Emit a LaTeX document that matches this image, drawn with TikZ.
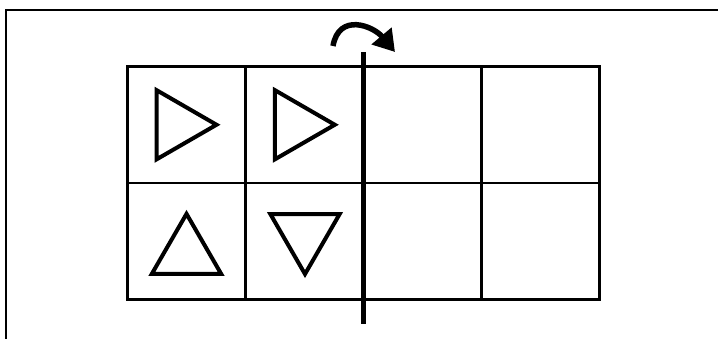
\documentclass[tikz,border=0pt]{standalone}
\usepackage{tikz}
\usetikzlibrary{arrows.meta, positioning, shapes.geometric}

\begin{document}
\begin{tikzpicture}[x=1pt, y=-1pt,
		cell/.style={draw, line width=2.2pt, minimum width=118pt, minimum height=116.5pt,
			inner sep=0pt, outer sep=0pt},
		tri/.style={draw, line width=4pt, regular polygon, regular polygon sides=3,
			minimum size=80pt, inner sep=0pt, outer sep=0pt},
		frame/.style={line width=1.5pt},
		axis/.style={line width=4.5pt},
		turn/.style={-{Triangle[length=21pt, width=25pt]}, line width=5.5pt}
		]
		\useasboundingbox (0,0) rectangle (718,338);
		\coordinate (fbl) at (6,340);
		\coordinate (ftl) at (6,10);
		\coordinate (ftr) at (720,10);
		\draw[frame] (fbl) -- (ftl) -- (ftr);
		
		% grid of cells
		\node[cell] (c11) at (186.5,124.75) {};
		\node[cell, right=0pt of c11] (c12) {};
		\node[cell, right=0pt of c12] (c13) {};
		\node[cell, right=0pt of c13] (c14) {};
		\node[cell, below=0pt of c11] (c21) {};
		\node[cell, right=0pt of c21] (c22) {};
		\node[cell, right=0pt of c22] (c23) {};
		\node[cell, right=0pt of c23] (c24) {};
		
		% triangles
		\node[tri, rotate=-90] (t11) at ([xshift=-10pt]c11.center) {};
		\node[tri, rotate=-90] (t12) at ([xshift=-9.7pt]c12.center) {};
		\node[tri] (t21) at ([yshift=-12.6pt]c21.center) {};
		\node[tri, rotate=180] (t22) at ([xshift=0.5pt, yshift=7.2pt]c22.center) {};
		
		% fold axis and turn arrow
		\coordinate[yshift=14.5pt] (axtop) at (c12.north east);
		\coordinate[yshift=-24.5pt] (axbot) at (c22.south east);
		\draw[axis] (axtop) -- (axbot);
		\coordinate (arrs) at (333,46);
		\coordinate (arre) at (395,52);
		\draw[turn] (arrs) to[out=80, in=130, looseness=1.4] (arre);
	\end{tikzpicture}
\end{document}
